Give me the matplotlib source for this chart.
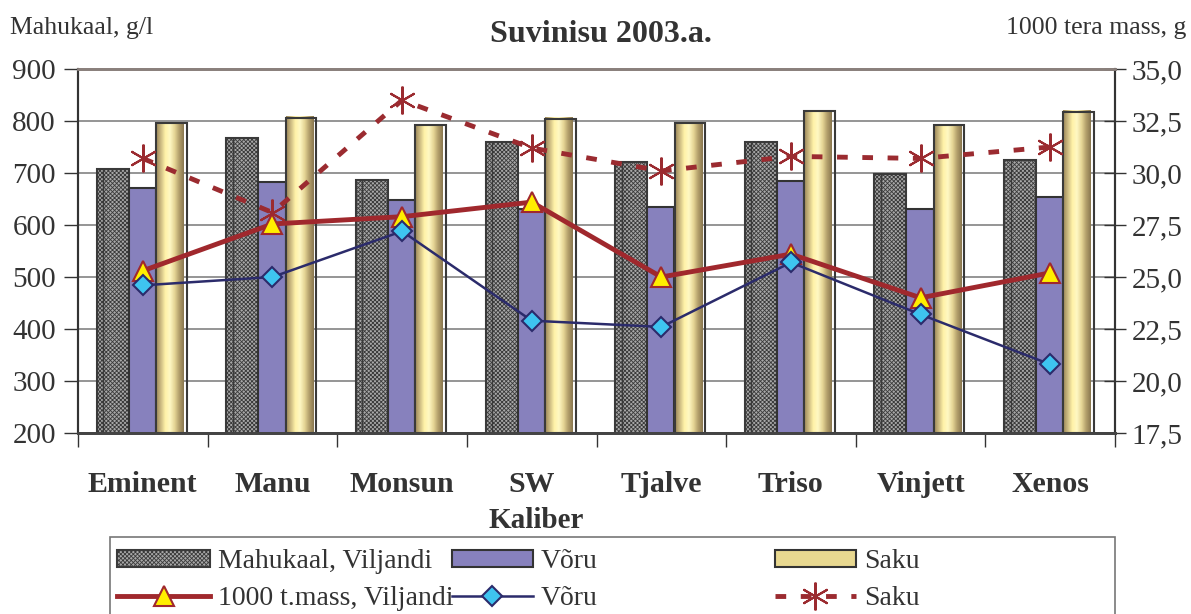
import numpy as np
import matplotlib
matplotlib.use("Agg")
from matplotlib import pyplot as plt
from matplotlib.colors import LinearSegmentedColormap
from matplotlib.patches import Patch, Rectangle

plt.rcParams['font.family'] = ['Liberation Serif', 'DejaVu Serif']
plt.rcParams['hatch.color'] = '#4a4a4a'
plt.rcParams['hatch.linewidth'] = 0.6

# data
sorts = ['Eminent', 'Manu', 'Monsun', 'SW', 'Tjalve', 'Triso', 'Vinjett', 'Xenos']
mahukaal_viljandi = [708, 767, 687, 760, 721, 760, 698, 725]
mahukaal_voru = [671, 683, 648, 631, 635, 685, 631, 654]
mahukaal_saku = [798, 808, 794, 806, 798, 821, 794, 820]
tmass_viljandi = [25.3, 27.55, 27.9, 28.6, 25.0, 26.1, 24.0, 25.2]
tmass_voru = [24.6, 25.0, 27.2, 22.9, 22.6, 25.7, 23.2, 20.8]
tmass_saku = [30.7, 28.1, 33.5, 31.2, 30.1, 30.8, 30.7, 31.25]

txt = '#333333'
W, H = 1191, 614
fig = plt.figure(figsize=(W / 100, H / 100), dpi=100)
ax = fig.add_axes([78 / W, 1 - 433 / H, (1115 - 78) / W, (433 - 69) / H])
ax2 = ax.twinx()

x = np.arange(len(sorts))

# Viljandi bars - hatched grey
vil_c, vil_w = -0.232, 0.247
ax.bar(x + vil_c, mahukaal_viljandi, vil_w, color='#a8a8a8',
       hatch='xxxxxxxx', edgecolor='#3a3a3a', linewidth=1.5, zorder=2)
for xi, h in zip(x, mahukaal_viljandi):
    ax.plot([xi + vil_c - vil_w / 2 + 0.05] * 2, [200, h], color='#3a3a3a', lw=1.0, zorder=3)

# Voru bars
ax.bar(x - 0.004, mahukaal_voru, 0.21, color='#8781bd', edgecolor='#333333',
       linewidth=1.5, zorder=2)

# Saku bars - golden cylinder gradient
gold = LinearSegmentedColormap.from_list('gold', ['#9a8658', '#cdbb82', '#fff2a8', '#fff8c4',
                                                  '#e6d696', '#b4a06c', '#8a7850'])
grad = np.linspace(0, 1, 64).reshape(1, -1)
for xi, h in zip(x, mahukaal_saku):
    x0 = xi + 0.102
    x1 = xi + 0.338
    ax.imshow(grad, cmap=gold, extent=[x0, x1 - 0.025, 200, h], aspect='auto', zorder=2.5)
    ax.add_patch(Rectangle((x0, 200), x1 - x0, h - 200 - 2, fill=False,
                           edgecolor='#3a3a3a', linewidth=1.5, zorder=2.6))

ax.set_xlim(-0.5, len(sorts) - 0.5)
ax.set_ylim(200, 900)
ax.set_yticks(range(200, 901, 100))
ax.set_axisbelow(True)
ax.yaxis.grid(True, color='#8c8c8c', linewidth=1.3, zorder=0)

ax.set_xticks(x)
ax.set_xticklabels(sorts, fontsize=21.5, fontweight='bold', color=txt)
ax.set_xticks(np.arange(-0.5, len(sorts)), minor=True)
ax.tick_params(axis='x', which='major', length=0, pad=27)
ax.tick_params(axis='x', which='minor', length=10, width=1, color='#333333', direction='out')
ax.tick_params(axis='y', labelsize=21, labelcolor=txt, length=10, width=1,
               direction='out', color='#333333', pad=6)

# lines on the right axis
l1, = ax2.plot(x, tmass_viljandi, color='#a0282d', lw=3.5, marker='^', ms=15,
               mfc='#ffee00', mec='#a0282d', mew=1.5, zorder=5)
l2, = ax2.plot(x, tmass_voru, color='#2b2b6b', lw=1.8, marker='D', ms=10,
               mfc='#3ec4f0', mec='#2b2b6b', mew=1.5, zorder=6)
l3, = ax2.plot(x, tmass_saku, color='#9b2b30', lw=3.5, ls=(0, (2.2, 3.0)), marker=(6, 2, 0),
               ms=20, mec='#9b2b30', mew=1.5, zorder=4)
ax2.set_ylim(17.5, 35)
ticks2 = np.arange(17.5, 35.01, 2.5)
ax2.set_yticks(ticks2)
ax2.set_yticklabels([f'{v:.1f}'.replace('.', ',') for v in ticks2])
ax2.tick_params(axis='y', labelsize=21, labelcolor=txt, length=16, width=1,
                direction='inout', color='#333333', pad=4)

for a in (ax, ax2):
    a.spines['top'].set_color('#8a807c')
    a.spines['top'].set_linewidth(2)
    a.spines['left'].set_color('#333333')
    a.spines['right'].set_color('#333333')
    a.spines['left'].set_linewidth(1.5)
    a.spines['right'].set_linewidth(1.5)
    a.spines['bottom'].set_color('#444444')
    a.spines['bottom'].set_linewidth(2)

fig.text(10 / W, 1 - 28 / H, 'Mahukaal, g/l', fontsize=18.5, color=txt, va='center', ha='left')
fig.text(1186 / W, 1 - 28 / H, '1000 tera mass, g', fontsize=18.5, color=txt, va='center', ha='right')
fig.text(601 / W, 1 - 34 / H, 'Suvinisu 2003.a.', fontsize=23, fontweight='bold', color=txt,
         va='center', ha='center')
fig.text(536 / W, 1 - 521 / H, 'Kaliber', fontsize=21, fontweight='bold', color=txt,
         va='center', ha='center')

# legend: frame plus three columns
fig.patches.append(Rectangle((110 / W, -0.02), (1115 - 110) / W, 0.02 + (614 - 537) / H,
                             transform=fig.transFigure, fill=False, edgecolor='#777777',
                             linewidth=1.2))
h1 = Patch(facecolor='#a8a8a8', hatch='xxxxxxxx', edgecolor='#3a3a3a', linewidth=1.5)
h2 = Patch(facecolor='#8781bd', edgecolor='#333333', linewidth=1.5)
h3 = Patch(facecolor='#e8d890', edgecolor='#333333', linewidth=1.5)
cols = [([h1, l1], ['Mahukaal, Viljandi', '1000 t.mass, Viljandi'], 117, 3.35),
        ([h2, l2], ['Võru', 'Võru'], 452, 2.9),
        ([h3, l3], ['Saku', 'Saku'], 775, 2.9)]
for hs, ls, x0, hl in cols:
    leg = fig.legend(hs, ls, loc='upper left', bbox_to_anchor=(x0 / W, 1 - 549 / H),
                     fontsize=20, frameon=False, handlelength=hl, handleheight=0.55,
                     borderpad=0, borderaxespad=0, labelspacing=0.42, handletextpad=0.3)
    for t in leg.get_texts():
        t.set_color(txt)

fig.savefig('out.png', dpi=100)
